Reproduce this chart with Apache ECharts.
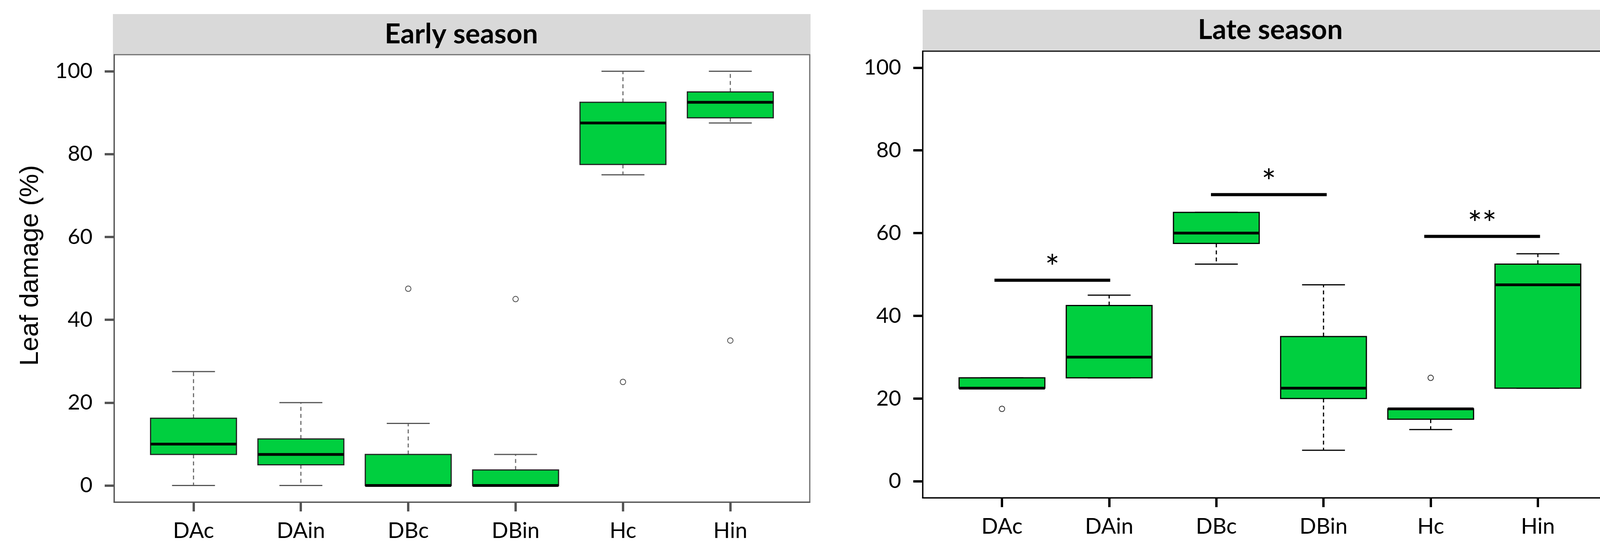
<!DOCTYPE html>
<html>
<head>
<meta charset="utf-8">
<script src="https://cdn.jsdelivr.net/npm/echarts@6/dist/echarts.min.js"></script>
<style>html,body{margin:0;padding:0;background:#fff;}#c{width:4177px;height:1419px;}</style>
</head>
<body>
<div id="c"></div>
<script>
// ---- data ----
const categories = ['DAc', 'DAin', 'DBc', 'DBin', 'Hc', 'Hin'];
const yTicks = [0, 20, 40, 60, 80, 100];
const catPos = [1, 2, 3, 4, 5, 6];
// [min, q1, median, q3, max]
const earlyBox = [
  [0, 7.5, 10, 16.25, 27.5],
  [0, 5, 7.5, 11.25, 20],
  [0, 0, 0, 7.5, 15],
  [0, 0, 0, 3.75, 7.5],
  [75, 77.5, 87.5, 92.5, 100],
  [87.5, 88.75, 92.5, 95, 100]
];
const earlyOutliers = [[3, 47.5], [4, 45], [5, 25], [6, 35]];
const lateBox = [
  [22.5, 22.5, 22.5, 25, 25],
  [25, 25, 30, 42.5, 45],
  [52.5, 57.5, 60, 65, 65],
  [7.5, 20, 22.5, 35, 47.5],
  [12.5, 15, 17.5, 17.5, 17.5],
  [22.5, 22.5, 47.5, 52.5, 55]
];
const lateOutliers = [[1, 17.5], [5, 25]];
// [x from, x to, y, label]
const lateSignif = [[0.93, 2.01, 48.6, '*'], [2.95, 4.03, 69.3, '*'], [4.94, 6.02, 59.2, '**']];
const panelTitles = ['Early season', 'Late season'];

const X_MIN = 0.26, X_MAX = 6.74, Y_MIN = -4, Y_MAX = 104;
const GREEN = '#00cf3f';
const chart = echarts.init(document.getElementById('c'));

function boxRender(boxStroke, whiskerColor, stapleColor) {
  return function (params, api) {
    const x = api.value(0);
    const mn = api.value(1), q1 = api.value(2), md = api.value(3), q3 = api.value(4), mx = api.value(5);
    const py = v => api.coord([x, v])[1];
    const cx = api.coord([x, md])[0];
    const half = api.size([0.8, 0])[0] / 2;
    const sh = api.size([0.4, 0])[0] / 2;
    const ch = [];
    if (mx > q3) ch.push({type: 'line', shape: {x1: cx, y1: py(q3), x2: cx, y2: py(mx)}, style: {stroke: whiskerColor, lineWidth: 3, lineDash: [10, 8]}});
    if (mn < q1) ch.push({type: 'line', shape: {x1: cx, y1: py(q1), x2: cx, y2: py(mn)}, style: {stroke: whiskerColor, lineWidth: 3, lineDash: [10, 8]}});
    ch.push({type: 'line', shape: {x1: cx - sh, y1: py(mx), x2: cx + sh, y2: py(mx)}, style: {stroke: stapleColor, lineWidth: 3}});
    ch.push({type: 'line', shape: {x1: cx - sh, y1: py(mn), x2: cx + sh, y2: py(mn)}, style: {stroke: stapleColor, lineWidth: 3}});
    ch.push({type: 'rect', shape: {x: cx - half, y: py(q3), width: 2 * half, height: py(q1) - py(q3)}, style: {fill: GREEN, stroke: boxStroke, lineWidth: 3}});
    ch.push({type: 'line', shape: {x1: cx - half, y1: py(md), x2: cx + half, y2: py(md)}, style: {stroke: '#000', lineWidth: 7}});
    return {type: 'group', children: ch};
  };
}

function sigRender(params, api) {
  const x1 = api.value(0), x2 = api.value(1), yv = api.value(2);
  const p1 = api.coord([x1, yv]), p2 = api.coord([x2, yv]);
  const label = lateSignif[params.dataIndex][3];
  return {type: 'group', children: [
    {type: 'line', shape: {x1: p1[0], y1: p1[1], x2: p2[0], y2: p2[1]}, style: {stroke: '#000', lineWidth: 8}},
    {type: 'text', style: {text: label, x: (p1[0] + p2[0]) / 2, y: p1[1] + 14, align: 'center', verticalAlign: 'bottom', font: '88px Lato', fill: '#000'}}
  ]};
}

function xAxisFor(gi, color) {
  return {
    type: 'value', gridIndex: gi, min: X_MIN, max: X_MAX,
    splitLine: {show: false},
    axisLine: {show: true, onZero: false, lineStyle: {color: color, width: 3}},
    axisTick: {show: true, length: 24, customValues: catPos, lineStyle: {color: color, width: 6}},
    axisLabel: {customValues: catPos, formatter: v => categories[Math.round(v) - 1], margin: 46, fontFamily: 'Lato', fontSize: 56, color: '#000'}
  };
}
function yAxisFor(gi, color, name) {
  const a = {
    type: 'value', gridIndex: gi, min: Y_MIN, max: Y_MAX,
    splitLine: {show: false},
    axisLine: {show: true, onZero: false, lineStyle: {color: color, width: 3}},
    axisTick: {show: true, length: 24, customValues: yTicks, lineStyle: {color: color, width: 6}},
    axisLabel: {customValues: yTicks, margin: 55, fontFamily: 'Lato', fontSize: 55, color: '#000'}
  };
  if (name) {
    a.name = name; a.nameLocation = 'middle'; a.nameRotate = 90; a.nameGap = 180;
    a.nameTextStyle = {fontFamily: 'Liberation Sans', fontSize: 67, color: '#000', padding: [0, 0, 0, 66]};
  }
  return a;
}

const option = {
  animation: false,
  backgroundColor: '#fff',
  grid: [
    {left: 292, top: 140, width: 1781, height: 1146, show: true, borderColor: '#6b6b6b', borderWidth: 3},
    {left: 2362, top: 131, width: 1778, height: 1144, show: true, borderColor: '#000', borderWidth: 3}
  ],
  xAxis: [xAxisFor(0, '#555555'), xAxisFor(1, '#000')],
  yAxis: [yAxisFor(0, '#555555', 'Leaf damage (%)'), yAxisFor(1, '#000', null)],
  graphic: [
    {type: 'rect', shape: {x: 289, y: 36, width: 1786, height: 102}, style: {fill: '#d9d9d9'}, z: -1},
    {type: 'text', style: {text: panelTitles[0], x: 1181, y: 88, align: 'center', verticalAlign: 'middle', font: 'bold 71px Lato', fill: '#000'}},
    {type: 'rect', shape: {x: 2362, y: 25, width: 1782, height: 104}, style: {fill: '#d9d9d9'}, z: -1},
    {type: 'text', style: {text: panelTitles[1], x: 3252, y: 77, align: 'center', verticalAlign: 'middle', font: 'bold 71px Lato', fill: '#000'}}
  ],
  series: [
    {type: 'custom', xAxisIndex: 0, yAxisIndex: 0, renderItem: boxRender('#222', '#6e6e6e', '#555'),
     data: earlyBox.map((b, i) => [catPos[i]].concat(b)), encode: {x: 0, y: [1, 2, 3, 4, 5]}},
    {type: 'scatter', xAxisIndex: 0, yAxisIndex: 0, data: earlyOutliers, symbol: 'circle', symbolSize: 14,
     itemStyle: {color: 'rgba(0,0,0,0)', borderColor: '#222', borderWidth: 2}},
    {type: 'custom', xAxisIndex: 1, yAxisIndex: 1, renderItem: boxRender('#000', '#000', '#000'),
     data: lateBox.map((b, i) => [catPos[i]].concat(b)), encode: {x: 0, y: [1, 2, 3, 4, 5]}},
    {type: 'scatter', xAxisIndex: 1, yAxisIndex: 1, data: lateOutliers, symbol: 'circle', symbolSize: 14,
     itemStyle: {color: 'rgba(0,0,0,0)', borderColor: '#000', borderWidth: 2}},
    {type: 'custom', xAxisIndex: 1, yAxisIndex: 1, renderItem: sigRender,
     data: lateSignif.map(s => [s[0], s[1], s[2]]), encode: {x: [0, 1], y: 2}}
  ]
};
chart.setOption(option);
</script>
</body>
</html>
